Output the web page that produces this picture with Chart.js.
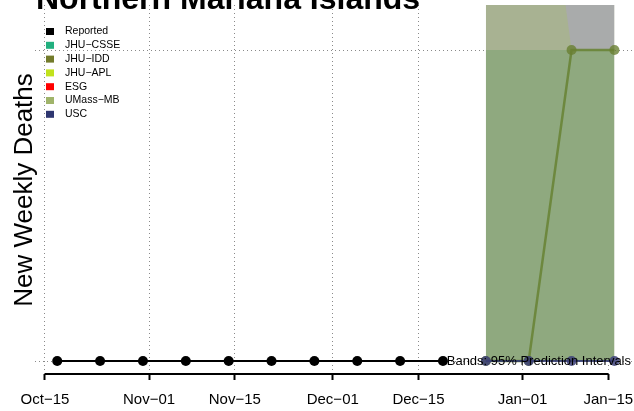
<!DOCTYPE html>
<html>
<head>
<meta charset="utf-8">
<script src="https://cdn.jsdelivr.net/npm/chart.js@4/dist/chart.umd.min.js"></script>
<style>
  html, body { margin: 0; padding: 0; background: #fff; }
  #wrap { width: 634px; height: 411px; }
</style>
</head>
<body>
<div id="wrap"><canvas id="mycanvas" width="634" height="411"></canvas></div>
<script>
// days counted from Oct-15
var tickDays = [0, 17, 31, 47, 61, 78, 92];
var tickLabels = ['Oct\u221215', 'Nov\u221201', 'Nov\u221215', 'Dec\u221201', 'Dec\u221215', 'Jan\u221201', 'Jan\u221215'];

var reportedDays = [2, 9, 16, 23, 30, 37, 44, 51, 58, 65];
var reported = [0, 0, 0, 0, 0, 0, 0, 0, 0, 0];

var forecastDays = [72, 79, 86, 93];
var usc = [0, 0, 0, 0];
var jhuIdd = [0, 0, 1, 1];

// prediction bands
var umassLower = [0, 0, 0, 0];
var umassUpper = [2, 2, 2, 2];
var iddLower = [0, 0, 0, 0];
var iddUpper = [1, 1, 1, 1];
var greyDays = [79, 86, 93];
var greyLower = [2.03, 1, 1];
var greyUpper = [3, 3, 3];

var legendNames = ['Reported', 'JHU\u2212CSSE', 'JHU\u2212IDD', 'JHU\u2212APL', 'ESG', 'UMass\u2212MB', 'USC'];
var legendColors = ['#000000', '#22b07f', '#737b2b', '#c1e21c', '#ff0000', '#a0b46a', '#2e3670'];

function pts(xs, ys) {
	var out = [];
	for (var i in xs) out.push({x: xs[i], y: ys[i]});
	return out;
}

var font = '"Liberation Sans", Arial, Helvetica, sans-serif';

var decor = {
	id: 'decor',
	afterDraw: function(chart) {
		var ctx = chart.ctx;
		var xs = chart.scales.x;
		var ys = chart.scales.y;
		ctx.save();
		// axis line
		ctx.strokeStyle = '#000';
		ctx.lineWidth = 2;
		ctx.beginPath();
		ctx.moveTo(xs.getPixelForValue(tickDays[0]), chart.chartArea.bottom);
		ctx.lineTo(xs.getPixelForValue(tickDays[tickDays.length - 1]), chart.chartArea.bottom);
		ctx.stroke();

		// title
		ctx.fillStyle = '#000';
		ctx.font = 'bold 32px ' + font;
		ctx.textAlign = 'left';
		ctx.textBaseline = 'alphabetic';
		ctx.fillText('Northern Mariana Islands', 36, 9);

		// y title
		ctx.save();
		ctx.translate(32, 190);
		ctx.rotate(-Math.PI / 2);
		ctx.font = '26px ' + font;
		ctx.textAlign = 'center';
		ctx.fillText('New Weekly Deaths', 0, 0);
		ctx.restore();

		// legend
		ctx.font = '10.5px ' + font;
		ctx.textBaseline = 'middle';
		for (var i = 0; i < legendNames.length; i++) {
			var cy = 31.5 + i * 13.8;
			ctx.fillStyle = legendColors[i];
			ctx.fillRect(46, cy - 3.5, 8, 7);
			ctx.fillStyle = '#000';
			ctx.fillText(legendNames[i], 65, cy);
		}

		// bands note
		ctx.font = '13px ' + font;
		ctx.textAlign = 'right';
		ctx.fillText('Bands: 95% Prediction Intervals', 631, ys.getPixelForValue(0));
		ctx.restore();
	}
};

var ctx = document.getElementById('mycanvas');

var chart = new Chart(ctx, {
	type: 'line',
	data: {
		datasets: [
			{
				label: 'Reported',
				data: pts(reportedDays, reported),
				borderColor: '#000',
				backgroundColor: '#000',
				borderWidth: 2,
				pointRadius: 5,
				pointBorderWidth: 0,
				order: 1
			},
			{
				label: 'USC',
				data: pts(forecastDays, usc),
				borderColor: 'rgba(46,54,112,0.85)',
				backgroundColor: 'rgba(60,64,120,0.85)',
				borderWidth: 2,
				pointRadius: 5,
				pointBorderWidth: 0,
				order: 2
			},
			{
				label: 'JHU-IDD',
				data: pts(forecastDays, jhuIdd),
				borderColor: 'rgba(105,132,55,0.9)',
				backgroundColor: 'rgba(105,128,50,0.8)',
				borderWidth: 2.5,
				pointRadius: 5,
				pointBorderWidth: 0,
				order: 3
			},
			{
				label: 'grey low',
				data: pts(greyDays, greyLower),
				borderColor: 'rgba(0,0,0,0)',
				borderWidth: 0,
				pointRadius: 0,
				order: 8
			},
			{
				label: 'grey high',
				data: pts(greyDays, greyUpper),
				borderColor: 'rgba(0,0,0,0)',
				backgroundColor: '#a9abab',
				borderWidth: 0,
				pointRadius: 0,
				fill: {target: 3},
				order: 8
			},
			{
				label: 'IDD band',
				data: pts(forecastDays, iddUpper),
				borderColor: 'rgba(0,0,0,0)',
				backgroundColor: '#8fa97f',
				borderWidth: 0,
				pointRadius: 0,
				fill: {value: iddLower[0]},
				order: 9
			},
			{
				label: 'UMass band',
				data: pts(forecastDays, umassUpper),
				borderColor: 'rgba(0,0,0,0)',
				backgroundColor: '#a8b292',
				borderWidth: 0,
				pointRadius: 0,
				fill: {value: umassLower[0]},
				order: 10
			}
		]
	},
	options: {
		responsive: false,
		animation: false,
		events: [],
		layout: {autoPadding: false, padding: {left: 35, right: 0, top: 5, bottom: 0}},
		plugins: {legend: {display: false}, tooltip: {enabled: false}},
		scales: {
			x: {
				type: 'linear',
				min: -1.63,
				max: 96.2,
				z: 1,
				afterBuildTicks: function(scale) {
					scale.ticks = tickDays.map(function(v) { return {value: v}; });
				},
				afterFit: function(scale) {
					scale.height = 37;
					scale.paddingLeft = 0;
					scale.paddingRight = 0;
				},
				border: {display: false, dash: [1, 3]},
				grid: {
					color: '#8a8a8a',
					lineWidth: 1,
					tickColor: '#000',
					tickLength: 6,
					tickWidth: 2,
					tickBorderDash: []
				},
				ticks: {
					color: '#000',
					font: {family: font, size: 15},
					padding: 11,
					maxRotation: 0,
					autoSkip: false,
					callback: function(v) {
						var i = tickDays.indexOf(v);
						return i >= 0 ? tickLabels[i] : '';
					}
				}
			},
			y: {
				min: -0.0418,
				max: 1.1447,
				afterBuildTicks: function(scale) {
					scale.ticks = [{value: 0}, {value: 1}];
				},
				afterFit: function(scale) { scale.width = 0; },
				border: {display: false, dash: [1, 3]},
				grid: {color: '#8a8a8a', lineWidth: 1, drawTicks: false},
				ticks: {display: false}
			}
		}
	},
	plugins: [decor]
});
</script>
</body>
</html>
